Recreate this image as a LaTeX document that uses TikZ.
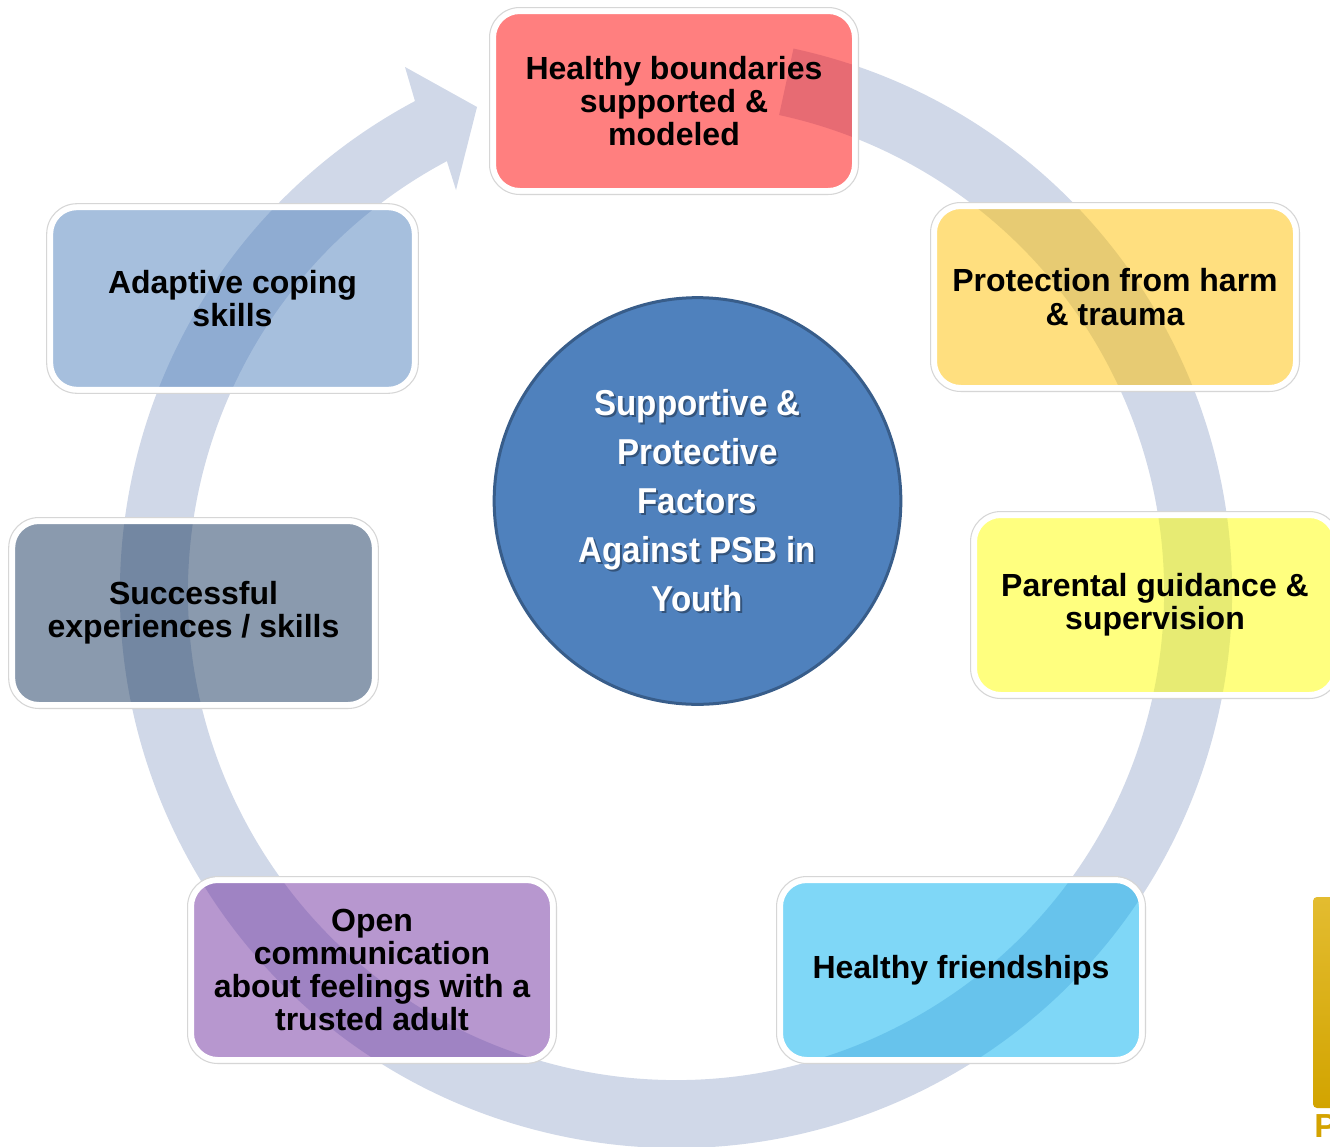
\documentclass[tikz,border=0pt]{standalone}
\usepackage{fontspec}
\setmainfont{Liberation Sans}
\newfontfamily\hubfont[FakeStretch=0.92]{Liberation Sans}
\definecolor{ringc}{HTML}{D0D8E8}
\definecolor{cRed}{HTML}{FF0000}
\definecolor{cGold}{HTML}{FFC000}
\definecolor{cYellow}{HTML}{FFFF00}
\definecolor{cCyan}{HTML}{00B0F0}
\definecolor{cPurple}{HTML}{7030A0}
\definecolor{cSlate}{HTML}{17375E}
\definecolor{cBlue}{HTML}{4F81BD}
\definecolor{hubfill}{HTML}{4F81BD}
\definecolor{hubborder}{HTML}{385D8A}
\definecolor{barTop}{HTML}{E3BC30}
\definecolor{barBot}{HTML}{D2A400}
\definecolor{pGold}{HTML}{D4A300}
\begin{document}
\begin{tikzpicture}[x=0.75pt,y=0.75pt,
  factor/.style={rectangle, rounded corners=20pt, draw=white, line width=4.5pt,
    fill opacity=0.5, draw opacity=1, text opacity=1, text=black,
    minimum width=271.5pt, minimum height=135pt, inner sep=0pt, outer sep=0pt,
    align=center, font=\fontsize{24}{24.9}\selectfont\bfseries},
  outline/.style={draw=black!16, line width=0.8pt, rounded corners=22.6pt},
  hubtext/.style={align=center, inner sep=0pt, outer sep=0pt,
    font=\hubfont\bfseries\fontsize{27}{36.75}\selectfont}
]
\useasboundingbox (0,0) rectangle (1330,-1146);
\fill[white] (0,0) rectangle (1330,-1146);
\clip (0,0) rectangle (1330,-1146);

% circular arrow
\begin{scope}[shift={(676,-592)}]
\fill[ringc] (77.8:417pt) arc[start angle=77.8, end angle=-242, radius=417pt]
  -- (-271,525) -- (-199,485) -- (-220,402)
  -- (-242:366pt) arc[start angle=-242, end angle=77.8, radius=366pt] -- cycle;
\end{scope}

% factor boxes
\node[factor, fill=cRed] (bound) at (674,-101) {Healthy boundaries\\supported \&\\modeled};
\node[factor, fill=cGold, minimum height=136.5pt] (harm) at (1115,-297) {Protection from harm\\\& trauma};
\node[factor, fill=cYellow] (guide) at (1155,-605) {Parental guidance \&\\supervision};
\node[factor, fill=cCyan] (friends) at (961,-970) {Healthy friendships};
\node[factor, fill=cPurple] (talk) at (372,-970) {Open\\communication\\about feelings with a\\trusted adult};
\node[factor, fill=cSlate, minimum width=272pt, minimum height=138pt] (success) at (193.5,-613) {Successful\\experiences / skills};
\node[factor, fill=cBlue, minimum width=273.5pt, minimum height=137pt] (coping) at (232.5,-298.5) {Adaptive coping\\skills};

\foreach \n in {bound,harm,guide,friends,talk,success,coping}{
  \draw[outline] ([shift={(-2.6pt,-2.6pt)}]\n.south west) rectangle ([shift={(2.6pt,2.6pt)}]\n.north east);
}

% hub
\node[circle, fill=hubfill, draw=hubborder, line width=2.25pt, minimum size=305pt,
  inner sep=0pt, outer sep=0pt] (hub) at (697.5,-501) {};
\node[hubtext, text=black, opacity=0.35] (hubshadow) at ([shift={(1.5pt,-1.5pt)}]hub.center)
  {Supportive \&\\Protective\\Factors\\Against PSB in\\Youth};
\node[hubtext, text=white] (hubtitle) at (hub.center)
  {Supportive \&\\Protective\\Factors\\Against PSB in\\Youth};

% fragment at the lower right edge
\shade[top color=barTop, bottom color=barBot, rounded corners=3pt] (1313,-897) rectangle (1345,-1108);
\node[anchor=base west, inner sep=0pt, text=pGold, font=\fontsize{25}{25}\selectfont\bfseries] (pfrag) at (1314,-1137) {P};
\end{tikzpicture}
\end{document}
